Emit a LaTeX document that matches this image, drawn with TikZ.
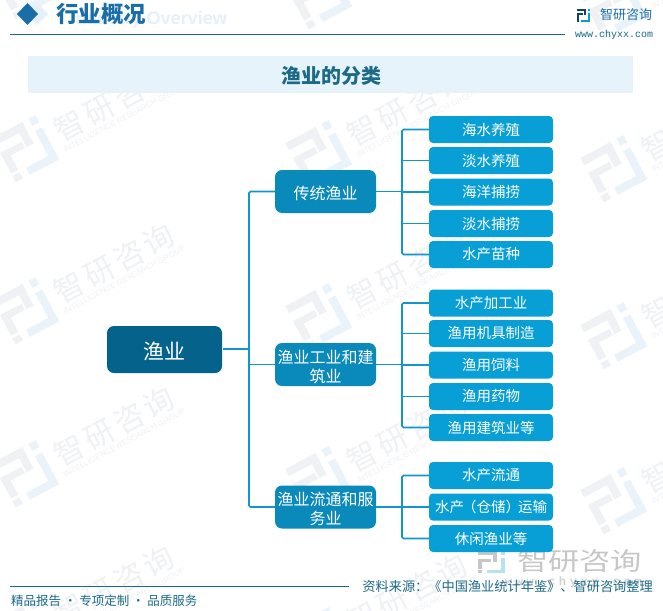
\documentclass[tikz,border=0pt]{standalone}
\usepackage{fontspec}
\setmainfont{Noto Sans CJK SC}
\newfontfamily\lat{Liberation Sans}
\newfontfamily\mono{Liberation Mono}
\definecolor{cdark}{HTML}{04628B}
\definecolor{cmid}{HTML}{0A8ABB}
\definecolor{cleaf}{HTML}{079FD6}
\definecolor{cline}{HTML}{1296CB}
\definecolor{chead}{HTML}{1A6EA8}
\definecolor{crule}{HTML}{1B6A86}
\definecolor{cband}{HTML}{E6F3FB}
\definecolor{wm}{HTML}{EFF1F4}
\definecolor{wmb}{HTML}{EAF3F9}
\definecolor{ghost}{HTML}{E6F0F8}
\newcommand{\dn}[1]{\raisebox{-8pt}[0pt][0pt]{#1}}
\newcommand{\lgshape}[2]{%
  \fill[#1] (-26,-25) rectangle (8,-17);
  \fill[#1] (0,-25) rectangle (8,-1);
  \fill[#1] (-26,-8) rectangle (-2,-1);
  \fill[#1] (-26,-8) rectangle (-18,15);
  \fill[#1] (-26,18) rectangle (-18,25);
  \fill[#2] (15,-25) rectangle (23,-17);
  \fill[#2] (15,-11) rectangle (23,25);
  \fill[#2] (-10,17) rectangle (23,25);
}
\tikzset{
  x=1pt,y=-1pt,
  root/.style={fill=cdark,rounded corners=7pt,text=white,minimum width=115pt,minimum height=47pt,inner sep=0pt,font=\fontsize{21}{23}\selectfont},
  mid/.style={fill=cmid,rounded corners=7pt,text=white,minimum width=101pt,minimum height=43pt,inner sep=0pt,align=center,text width=101pt,font=\fontsize{16}{19}\selectfont},
  leaf/.style={fill=cleaf,rounded corners=4pt,text=white,minimum width=124pt,minimum height=27pt,inner sep=0pt,font=\fontsize{14.5}{16}\selectfont},
  link/.style={draw=cline,line width=1.6pt,rounded corners=1.5pt},
  wmtext/.style={text=wm,inner sep=0pt,transform shape,font=\fontsize{30}{32}\selectfont\addfontfeatures{LetterSpace=12}},
  wmsmall/.style={text=wm,inner sep=0pt,transform shape,font=\lat\fontsize{8}{9}\selectfont},
  wmark/.pic={
    \lgshape{wm}{wmb}
    \node[wmtext] at (99,0) {智研咨询};
    \node[wmsmall] at (100,19) {INTELLIGENCE RESEARCH GROUP};
  }
}
\begin{document}
\begin{tikzpicture}
\useasboundingbox (0,0) rectangle (663,610);
\fill[white] (0,0) rectangle (663,610);
% watermarks
\foreach \px/\py in {27/-15,27/148,27/310,27/473,27/632,320/-5,320/153,320/316,320/479,320/640,615/5,615/168,615/335,615/500}{
  \pic[rotate=28] at (\px,\py) {wmark};
}
% header
\node[inner sep=0pt,text=ghost,font=\lat\bfseries\fontsize{18}{20}\selectfont,anchor=east] (ov) at (227,20) {Industry Overview};
\fill[ghost] (37,3) -- (48,14) -- (37,25) -- (26,14) -- cycle;
\fill[chead] (27.5,3) -- (38,14) -- (27.5,25) -- (17,14) -- cycle;
\node[inner sep=0pt,text=chead,anchor=west,font=\bfseries\fontsize{22.5}{24}\selectfont] (title) at (56,14) {行业概况};
\coordinate (r1) at (10,35); \coordinate (r2) at (565,35);
\draw[crule,line width=1pt] (r1) -- (r2);
\fill[cband] (28,56) rectangle (633,93);
\node[inner sep=0pt,text=crule,font=\bfseries\fontsize{20}{22}\selectfont] (band) at (331,76) {渔业的分类};
% logo top right
\begin{scope}[shift={(584,15.5)},scale=0.27]
\lgshape{chead!60!black}{cleaf}
\end{scope}
\node[inner sep=0pt,text=chead,anchor=west,font=\fontsize{13}{15}\selectfont] (lg) at (600,15) {智研咨询};
\node[inner sep=0pt,text=crule,anchor=west,font=\mono\fontsize{10}{11}\selectfont] (url) at (575,35) {www.chyxx.com};
% bottom right logo
\begin{scope}[shift={(492.5,562.5)},xscale=0.56,yscale=0.42]
\lgshape{black!22}{cleaf!30}
\end{scope}
\node[inner sep=0pt,text=black!22,anchor=west,font=\fontsize{25}{27}\selectfont] (bl) at (517,561) {\scalebox{1.25}[1]{智研咨询}};
\node[inner sep=0pt,text=black!18,anchor=east,font=\mono\bfseries\fontsize{12}{13}\selectfont\addfontfeatures{LetterSpace=30}] (bu) at (642,582) {www.chyxx.com};
% nodes
\node[root] (R) at (164.5,349.5) {\raisebox{-9.5pt}[0pt][0pt]{渔业}};
\node[mid] (A) at (325.5,191.5) {\dn{传统渔业}};
\node[mid] (B) at (325.5,364.5) {\dn{渔业工业和建}\\\dn{筑业}};
\node[mid] (C) at (325.5,507) {\dn{渔业流通和服}\\\dn{务业}};
\foreach \n/\y/\t in {a1/129.5/海水养殖,a2/160.5/淡水养殖,a3/192/海洋捕捞,a4/223.5/淡水捕捞,a5/254.5/水产苗种,
  b1/303/水产加工业,b2/333.5/渔用机具制造,b3/365/渔用饲料,b4/396.5/渔用药物,b5/427.5/渔用建筑业等,
  c1/475.5/水产流通,c2/507/水产\hspace{-2pt}（仓储）\hspace{-2pt}运输,c3/538.5/休闲渔业等}{
  \node[leaf] (\n) at (491,\y) {\t};
}
% connectors
\coordinate (t0) at (249,349);
\coordinate (r0) at (223,349);
\draw[link] (r0) -- (t0);
\draw[link] (A.west) -| (t0) |- (C.west);
\draw[link] (t0 |- B.west) -- (B.west);
\coordinate (ta) at (402,191.5);
\coordinate (tb) at (402,364.5);
\coordinate (tc) at (402,507);
\draw[link] (A.east) -- (ta);
\draw[link] (B.east) -- (tb);
\draw[link] (C.east) -- (tc);
\draw[link] (a1.west) -| (ta) |- (a5.west);
\draw[link] (b1.west) -| (tb) |- (b5.west);
\draw[link] (c1.west) -| (tc) |- (c3.west);
\foreach \n in {a2,a3,a4}{\draw[link] (ta |- \n.west) -- (\n.west);}
\foreach \n in {b2,b3,b4}{\draw[link] (tb |- \n.west) -- (\n.west);}
\draw[link] (tc |- c2.west) -- (c2.west);
% footer
\coordinate (f1) at (10,586.5); \coordinate (f2) at (349,586.5);
\draw[crule,line width=1pt] (f1) -- (f2);
\node[inner sep=0pt,text=crule,anchor=east,font=\fontsize{13.2}{15}\selectfont] (src) at (653,587) {资料来源：《中国渔业统计年鉴》、智研咨询整理};
\node[inner sep=0pt,text=crule,anchor=west,font=\fontsize{12.5}{14}\selectfont] (foot) at (11,601) {精品报告 · 专项定制 · 品质服务};
\end{tikzpicture}
\end{document}
